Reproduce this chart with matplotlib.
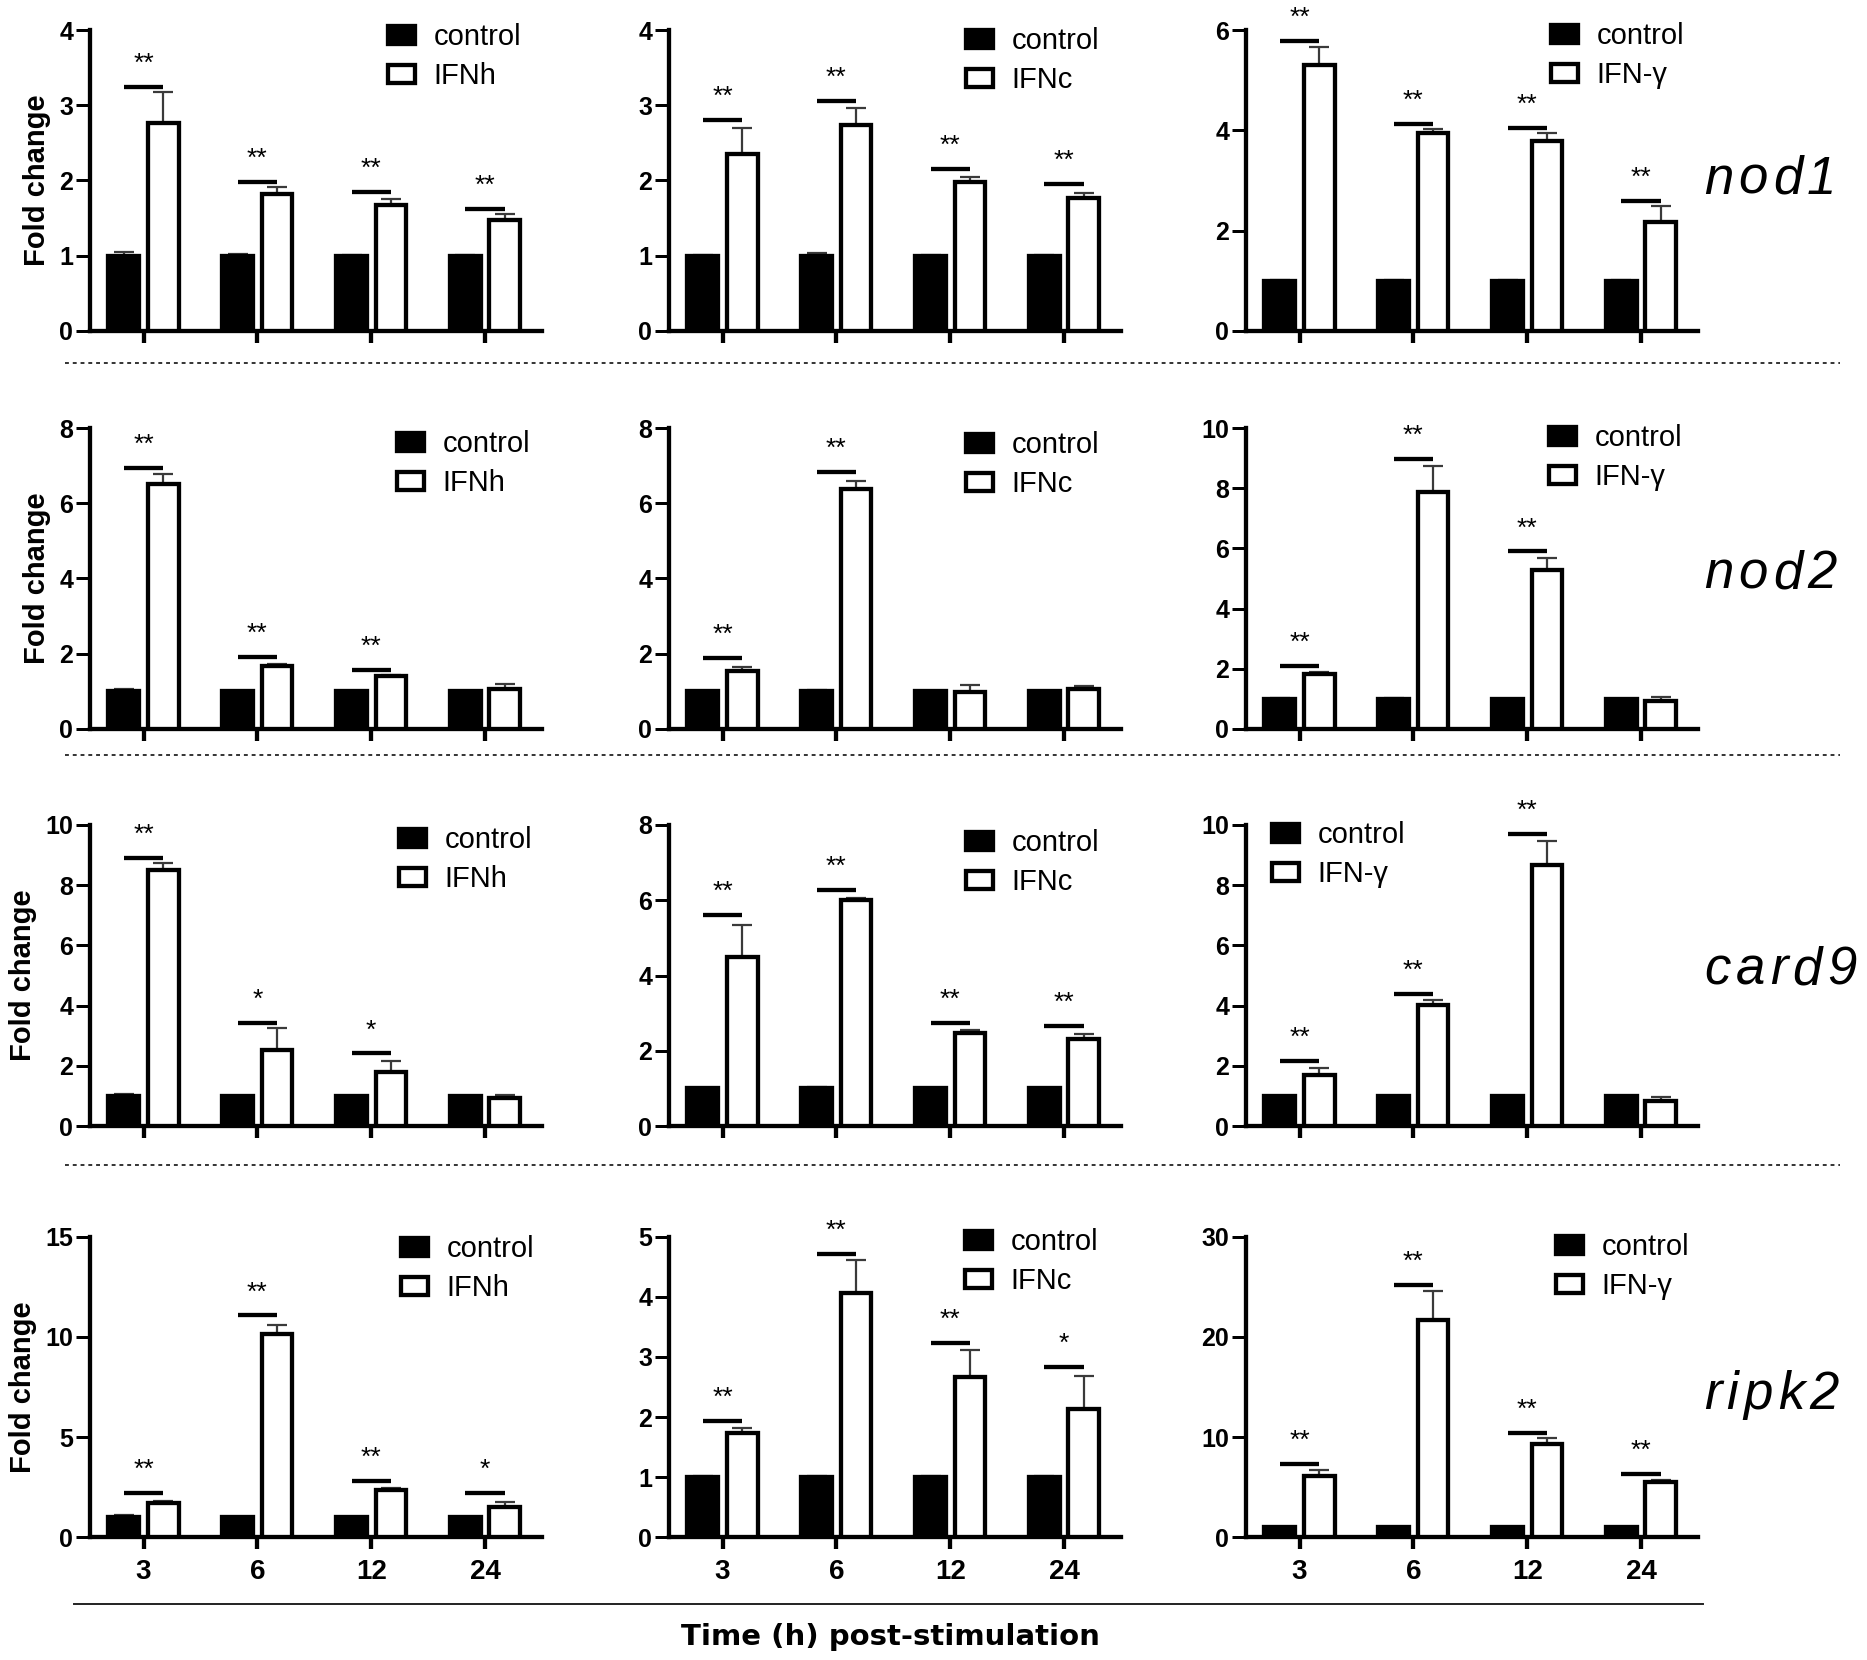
"""Fold change of nod1 / nod2 / card9 / ripk2 after IFNh, IFNc and IFN-γ stimulation."""
import numpy as np
import matplotlib
matplotlib.use("Agg")
import matplotlib.pyplot as plt
from matplotlib.lines import Line2D

# ── data ─────────────────────────────────────────────────────────────────────
TIMES      = ["3", "6", "12", "24"]
GENES      = ["nod1", "nod2", "card9", "ripk2"]
TREATMENTS = ["IFNh", "IFNc", "IFN-γ"]

# y-axis top and tick step per panel [row][col]
YMAX  = [[4, 4, 6], [8, 8, 10], [10, 8, 10], [15, 5, 30]]
YSTEP = [[1, 1, 2], [2, 2, 2], [2, 2, 2], [5, 1, 10]]

CTRL_MEAN = [[[1.0, 1.0, 1.0, 1.0]] * 3 for _ in range(4)]
CTRL_ERR = [
    [[0.05, 0.02, 0.005, 0.01], [0.01, 0.03, 0.005, 0.005], [0.01, 0.02, 0.01, 0.01]],
    [[0.06, 0.01, 0.01, 0.01], [0.01, 0.03, 0.01, 0.01], [0.03, 0.02, 0.01, 0.01]],
    [[0.05, 0.01, 0.01, 0.01], [0.01, 0.03, 0.01, 0.01], [0.01, 0.01, 0.01, 0.01]],
    [[0.08, 0.02, 0.02, 0.02], [0.02, 0.02, 0.01, 0.01], [0.05, 0.05, 0.05, 0.05]],
]

IFN_MEAN = [
    [[2.76, 1.82, 1.67, 1.47], [2.35, 2.74, 1.98, 1.77], [5.31, 3.94, 3.79, 2.17]],
    [[6.52, 1.67, 1.40, 1.05], [1.53, 6.37, 0.99, 1.05], [1.84, 7.88, 5.27, 0.93]],
    [[8.51, 2.54, 1.80, 0.93], [4.48, 6.01, 2.47, 2.30], [1.68, 4.01, 8.66, 0.82]],
    [[1.72, 10.15, 2.35, 1.52], [1.73, 4.07, 2.67, 2.13], [6.10, 21.67, 9.33, 5.50]],
]
IFN_ERR = [
    [[0.41, 0.09, 0.09, 0.08], [0.35, 0.22, 0.06, 0.07], [0.35, 0.08, 0.15, 0.32]],
    [[0.27, 0.07, 0.03, 0.15], [0.12, 0.22, 0.18, 0.10], [0.04, 0.85, 0.41, 0.14]],
    [[0.22, 0.70, 0.36, 0.11], [0.86, 0.06, 0.07, 0.14], [0.25, 0.18, 0.80, 0.15]],
    [[0.10, 0.43, 0.12, 0.25], [0.09, 0.54, 0.44, 0.55], [0.57, 2.93, 0.54, 0.20]],
]

# significance bar height (None = no mark) and label
SIG_Y = [
    [[3.24, 1.98, 1.85, 1.62], [2.80, 3.06, 2.15, 1.95], [5.79, 4.13, 4.04, 2.59]],
    [[6.94, 1.91, 1.58, None], [1.89, 6.84, None, None], [2.09, 8.96, 5.90, None]],
    [[8.90, 3.43, 2.41, None], [5.61, 6.27, 2.75, 2.66], [2.16, 4.38, 9.69, None]],
    [[2.19, 11.08, 2.82, 2.19], [1.94, 4.72, 3.23, 2.84], [7.27, 25.17, 10.43, 6.27]],
]
SIG_MARK = [
    [["**"] * 4, ["**"] * 4, ["**"] * 4],
    [["**", "**", "**", ""], ["**", "**", "", ""], ["**", "**", "**", ""]],
    [["**", "*", "*", ""], ["**"] * 4, ["**", "**", "**", ""]],
    [["**", "**", "**", "*"], ["**", "**", "**", "*"], ["**"] * 4],
]

# ── layout (pixels of the 1867x1660 canvas) ──────────────────────────────────
W, H  = 1867, 1660
COL_X = [(90, 542), (669, 1121), (1246, 1698)]
ROW_Y = [(30, 331), (428, 729), (825, 1126), (1237, 1537)]
LEG_XY = [
    [(388, 24), (966, 28), (1551, 23)],
    [(397, 431), (966, 432), (1549, 425)],
    [(399, 827), (966, 830), (1272, 822)],
    [(401, 1236), (965, 1229), (1556, 1234)],
]
GENE_X    = 1704
GENE_BASE = [194, 588, 984, 1409]
SEP_Y = [363, 755, 1165]

PX   = 0.72                  # points per pixel at dpi 100
EDGE = 4.3 * PX
BW   = 0.27
OFF  = 0.173

SANS = ["Liberation Sans", "DejaVu Sans"]

fig = plt.figure(figsize=(W / 100, H / 100), dpi=100, facecolor="white")


def fx(p):
    return p / W


def fy(p):
    return 1 - p / H


for r in range(4):
    for c in range(3):
        x0, x1 = COL_X[c]
        y0, y1 = ROW_Y[r]
        ax = fig.add_axes([fx(x0), fy(y1), (x1 - x0) / W, (y1 - y0) / H])
        xs = np.arange(len(TIMES))

        cm, ce = np.array(CTRL_MEAN[r][c]), np.array(CTRL_ERR[r][c])
        im, ie = np.array(IFN_MEAN[r][c]), np.array(IFN_ERR[r][c])

        b_ctrl = ax.bar(xs - OFF, cm, width=BW, color="black", edgecolor="black",
                        linewidth=EDGE, zorder=3, label="control")
        b_ifn = ax.bar(xs + OFF, im, width=BW, color="white", edgecolor="black",
                       linewidth=EDGE, zorder=3, label=TREATMENTS[c])
        for xx, m, e in ((xs - OFF, cm, ce), (xs + OFF, im, ie)):
            ax.errorbar(xx, m, yerr=[np.zeros_like(e), e], fmt="none",
                        ecolor="#3a3a3a", elinewidth=1.6, capsize=7.5,
                        capthick=1.6, zorder=2)

        # significance bars + stars
        for i in range(len(TIMES)):
            h = SIG_Y[r][c][i]
            if h is None:
                continue
            ax.plot([i - OFF, i + OFF], [h, h], color="black", lw=EDGE,
                    solid_capstyle="butt", clip_on=False, zorder=4)
            ax.annotate(SIG_MARK[r][c][i], (i, h), xytext=(0, 16 * PX),
                        textcoords="offset points", ha="center", va="baseline",
                        fontsize=19, family=SANS, annotation_clip=False)

        # axes styling
        ymax = YMAX[r][c]
        ax.set_xlim(-0.47, 3.5)
        ax.set_ylim(0, ymax)
        ax.set_yticks(np.arange(0, ymax + 0.01, YSTEP[r][c]))
        ax.set_xticks(xs)
        ax.set_xticklabels(TIMES if r == 3 else [""] * 4)
        for s in ("top", "right"):
            ax.spines[s].set_visible(False)
        for s in ("left", "bottom"):
            ax.spines[s].set_linewidth(EDGE)
        ax.tick_params(axis="y", length=14 * PX, width=3 * PX, pad=2, labelsize=18)
        ax.tick_params(axis="x", length=12 * PX, width=EDGE, pad=7, labelsize=20)
        for lab in ax.get_yticklabels() + ax.get_xticklabels():
            lab.set_fontweight("bold")
            lab.set_family(SANS)
        ax.patch.set_alpha(0)

        if c == 0:
            ax.set_ylabel("Fold change", fontsize=21, fontweight="bold",
                          family=SANS, labelpad=6)

        lx, ly = LEG_XY[r][c]
        ax.legend(handles=[b_ctrl, b_ifn], loc="upper left",
                  bbox_to_anchor=(fx(lx), fy(ly - 1)), bbox_transform=fig.transFigure,
                  frameon=False, borderpad=0, borderaxespad=0,
                  handlelength=0.92, handleheight=0.58, handletextpad=0.65,
                  labelspacing=0.39, prop={"family": SANS, "size": 21})

# ── gene names, drawn letter by letter for the wide tracking ─────────────────
renderer = fig.canvas.get_renderer()
GENE_FONT = dict(fontsize=38, style="italic", family=SANS, va="baseline", ha="left")
TRACK = 5  # px between letters
for r, gene in enumerate(GENES):
    for i, ch in enumerate(gene):
        if i:
            probe = fig.text(0, 0, gene[:i], **GENE_FONT)
            adv = probe.get_window_extent(renderer).width
            probe.remove()
        else:
            adv = 0
        fig.text(fx(GENE_X + adv + i * TRACK), fy(GENE_BASE[r]), ch, **GENE_FONT)

# ── separators, bottom rule and common x label ───────────────────────────────
for y in SEP_Y:
    fig.add_artist(Line2D([fx(65), fx(1840)], [fy(y), fy(y)], color="#333333",
                          lw=1.4, linestyle=(0, (2, 2))))
fig.add_artist(Line2D([fx(74), fx(1703)], [fy(1604), fy(1604)], color="#222222", lw=1.4))
fig.text(fx(890), fy(1645), "Time (h) post-stimulation", fontsize=21,
         fontweight="bold", family="DejaVu Sans", ha="center", va="baseline")

fig.savefig("out.png", dpi=100, facecolor="white")
plt.close(fig)
